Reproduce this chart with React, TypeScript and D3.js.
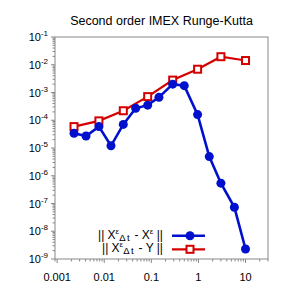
import React from 'react';
import * as d3 from 'd3';

// time steps and errors
const dtBlue = [0.00228, 0.0041, 0.0077, 0.0139, 0.0254, 0.0465, 0.0836, 0.145, 0.284, 0.5, 0.96, 1.7, 3.0, 5.8, 10];
const errBlue = [3.4e-5, 2.7e-5, 5.9e-5, 1.2e-5, 7.1e-5, 2.7e-4, 3.5e-4, 6.7e-4, 2.0e-3, 1.76e-3, 1.6e-4, 4.9e-6, 5.4e-7, 7.3e-8, 2.3e-9];
const dtRed = [0.00228, 0.0077, 0.0254, 0.0836, 0.284, 0.96, 3.0, 10];
const errRed = [5.9e-5, 9.5e-5, 2.2e-4, 7.1e-4, 2.8e-3, 6.9e-3, 1.95e-2, 1.42e-2];

const xTickValues = [0.001, 0.01, 0.1, 1, 10];
const xTickLabels = ['0.001', '0.01', '0.1', '1', '10'];
const yExponents = [-1, -2, -3, -4, -5, -6, -7, -8, -9];

const BLUE = '#0010cc';
const RED = '#d40000';
const GRAY = '#888';
const FONT = 'Liberation Sans, Arial, sans-serif';

const App = () => {
  const width = 289, height = 289;
  const margin = { top: 37, right: 21, bottom: 30, left: 55 };
  const innerW = width - margin.left - margin.right;
  const innerH = height - margin.top - margin.bottom;

  const x = d3.scaleLog().domain([0.0009, 30]).range([0, innerW]);
  const y = d3.scaleLog().domain([1e-9, 1e-1]).range([innerH, 0]);

  const line = d3.line<[number, number]>().x(d => x(d[0])).y(d => y(d[1]));
  const bluePts: [number, number][] = dtBlue.map((t, i) => [t, errBlue[i]]);
  const redPts: [number, number][] = dtRed.map((t, i) => [t, errRed[i]]);

  // minor ticks
  const xMinor: number[] = [];
  for (let e = -4; e <= 1; e++) for (let k = 2; k <= 9; k++) {
    const v = k * Math.pow(10, e);
    if (v >= 0.0009 && v <= 30) xMinor.push(v);
  }
  const yMinor: number[] = [];
  for (let e = -9; e <= -2; e++) for (let k = 2; k <= 9; k++) yMinor.push(k * Math.pow(10, e));

  return (
    <svg width={width} height={height} style={{ position: 'absolute', left: 0, top: 0, background: '#fff' }} fontFamily={FONT}>
      <text x={margin.left + innerW / 2} y={25} textAnchor="middle" fontSize={12.5} fill="#000">Second order IMEX Runge-Kutta</text>
      <g transform={`translate(${margin.left},${margin.top})`}>
        {/* y axis ticks */}
        {yMinor.map(v => (
          <line key={'ym' + v} x1={-2.5} x2={0} y1={y(v)} y2={y(v)} stroke={GRAY} />
        ))}
        {yExponents.map(e => (
          <g key={'y' + e} transform={`translate(0,${y(Math.pow(10, e))})`}>
            <line x1={-4} x2={0} stroke={GRAY} />
            <text x={-7} y={4} textAnchor="end" fontSize={11} fill="#000">
              10<tspan dy={-5} fontSize={8}>{e}</tspan>
            </text>
          </g>
        ))}
        {/* x axis ticks */}
        {xMinor.map(v => (
          <line key={'xm' + v} x1={x(v)} x2={x(v)} y1={innerH} y2={innerH + 2.5} stroke={GRAY} />
        ))}
        {xTickValues.map((v, i) => (
          <g key={'x' + v} transform={`translate(${x(v)},${innerH})`}>
            <line y1={0} y2={4} stroke={GRAY} />
            <text y={22} textAnchor="middle" fontSize={11} fill="#000">{xTickLabels[i]}</text>
          </g>
        ))}
        {/* frame */}
        <rect x={0} y={0} width={innerW} height={innerH} fill="none" stroke={GRAY} strokeWidth={1} />

        {/* series */}
        <path d={line(redPts) || ''} fill="none" stroke={RED} strokeWidth={2.2} />
        <path d={line(bluePts) || ''} fill="none" stroke={BLUE} strokeWidth={2.6} />
        {redPts.map((d, i) => (
          <rect key={'r' + i} x={x(d[0]) - 3.5} y={y(d[1]) - 3.5} width={7} height={7} fill="#fff" stroke={RED} strokeWidth={2} />
        ))}
        {bluePts.map((d, i) => (
          <circle key={'b' + i} cx={x(d[0])} cy={y(d[1])} r={4.5} fill={BLUE} />
        ))}
      </g>

      {/* legend */}
      <g fontSize={12} fill="#000">
        <text x={163} y={239} textAnchor="end">
          || X<tspan dy={-5} fontSize={8}>ε</tspan><tspan dy={7} fontSize={9.5} letterSpacing={1.5}>Δt</tspan><tspan dy={-2}> - X</tspan><tspan dy={-5} fontSize={8}>ε</tspan><tspan dy={5}> ||</tspan>
        </text>
        <text x={163} y={252} textAnchor="end">
          || X<tspan dy={-5} fontSize={8}>ε</tspan><tspan dy={7} fontSize={9.5} letterSpacing={1.5}>Δt</tspan><tspan dy={-2}> - Y ||</tspan>
        </text>
      </g>
      <line x1={172} x2={205} y1={235.7} y2={235.7} stroke={BLUE} strokeWidth={2.6} />
      <circle cx={190} cy={235.7} r={4.5} fill={BLUE} />
      <line x1={172} x2={205} y1={249.3} y2={249.3} stroke={RED} strokeWidth={2.2} />
      <rect x={190 - 3.5} y={249.3 - 3.5} width={7} height={7} fill="#fff" stroke={RED} strokeWidth={2} />
    </svg>
  );
};

export default App;
